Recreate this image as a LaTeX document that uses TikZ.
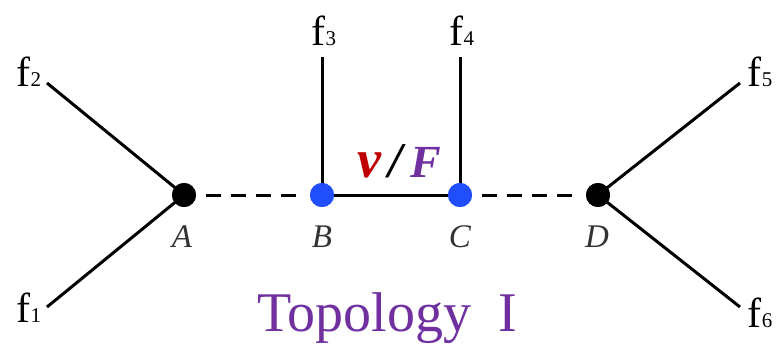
\documentclass[tikz,border=0pt]{standalone}
\usepackage{fontspec}
\setmainfont{Liberation Serif}
\definecolor{dotblue}{HTML}{1F4EFA}
\definecolor{vred}{HTML}{C00000}
\definecolor{fpurple}{HTML}{7030A0}
\definecolor{lblgray}{HTML}{333333}
\begin{document}
\begin{tikzpicture}[x=1pt,y=-1pt,
  edge/.style={line width=3pt,black},
  dashedge/.style={line width=3pt,black,dash pattern=on 15pt off 10pt},
  blackdot/.style={circle,fill=black,inner sep=0pt,minimum size=24pt},
  bluedot/.style={circle,fill=dotblue,inner sep=0pt,minimum size=24pt},
  flabel/.style={inner sep=0pt,font=\fontsize{42}{42}\selectfont},
  vlabel/.style={inner sep=0pt,text=lblgray,font=\fontsize{33}{33}\selectfont\itshape}]
\useasboundingbox (0,0) rectangle (777,343);
\newcommand{\fsub}[1]{f{\fontsize{21}{21}\selectfont #1}}
% vertices
\node[blackdot] (A) at (184,195) {};
\node[bluedot] (B) at (322,195) {};
\node[bluedot] (C) at (460,195) {};
\node[blackdot] (D) at (598,195) {};
% leaf endpoints
\coordinate (e1) at (47,307);
\coordinate (e2) at (47,83);
\coordinate (e3) at (322,57);
\coordinate (e4) at (460,57);
\coordinate (e5) at (740,83);
\coordinate (e6) at (740,307);
% edges
\draw[edge] (A.center) -- (e1);
\draw[edge] (A.center) -- (e2);
\draw[edge] (B.center) -- (e3);
\draw[edge] (C.center) -- (e4);
\draw[edge] (D.center) -- (e5);
\draw[edge] (D.center) -- (e6);
\draw[edge] (B) -- (C);
\draw[dashedge] ([xshift=10pt]A.east) -- ([xshift=-10pt]B.west);
\draw[dashedge] ([xshift=10pt]C.east) -- ([xshift=-8pt]D.west);
% redraw dots on top
\node[blackdot] at (A) {};
\node[bluedot] at (B) {};
\node[bluedot] at (C) {};
\node[blackdot] at (D) {};
% leaf labels
\node[flabel,anchor=base] (f1) at (29,322) {\fsub{1}};
\node[flabel,anchor=base] (f2) at (29,86) {\fsub{2}};
\node[flabel,anchor=base] (f3) at (324,45) {\fsub{3}};
\node[flabel,anchor=base] (f4) at (462,45) {\fsub{4}};
\node[flabel,anchor=base] (f5) at (760,86) {\fsub{5}};
\node[flabel,anchor=base] (f6) at (760,327) {\fsub{6}};
% vertex labels
\node[vlabel,anchor=base] (lA) at (182,247) {A};
\node[vlabel,anchor=base] (lB) at (322,247) {B};
\node[vlabel,anchor=base] (lC) at (460,247) {C};
\node[vlabel,anchor=base] (lD) at (597,247) {D};
% edge label
\node[inner sep=0pt,anchor=base,font=\fontsize{46}{46}\selectfont\bfseries\itshape] (vF) at (399,177)
  {\textcolor{vred}{\fontsize{54}{54}\selectfont v}\,{\fontsize{50}{50}\selectfont /}\,\textcolor{fpurple}{F}};
% title
\node[inner sep=0pt,anchor=base west,text=fpurple,font=\fontsize{56}{56}\selectfont] (title) at (257,331)
  {Topology\hspace{27pt}I};
\end{tikzpicture}
\end{document}
